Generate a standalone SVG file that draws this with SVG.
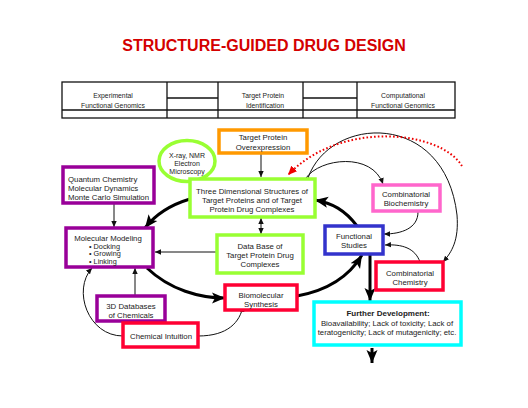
<svg xmlns="http://www.w3.org/2000/svg" width="528" height="408" viewBox="0 0 528 408">
<style>
text{font-family:"Liberation Sans",Arial,sans-serif;fill:#222}
.t{font-size:7.8px;text-anchor:middle}
.l{font-size:7.8px}
.b{font-size:7.3px}
.s{font-size:7px;text-anchor:middle}
.tb{font-size:6.8px;text-anchor:middle}
.box{fill:#fff;stroke-width:3.5}
.thin{fill:none;stroke:#111;stroke-width:1}
.thick{fill:none;stroke:#000;stroke-width:3}
.tab{fill:none;stroke:#111;stroke-width:1.3}
</style>
<defs>
<marker id="sa" markerUnits="userSpaceOnUse" markerWidth="7" markerHeight="7" viewBox="0 0 7 7" refX="6" refY="3.5" orient="auto"><path d="M0,0.8 L6,3.5 L0,6.2 Z" fill="#111"/></marker>
<marker id="sb" markerUnits="userSpaceOnUse" markerWidth="7" markerHeight="7" viewBox="0 0 7 7" refX="1" refY="3.5" orient="auto"><path d="M7,0.8 L1,3.5 L7,6.2 Z" fill="#111"/></marker>
<marker id="la" markerUnits="userSpaceOnUse" markerWidth="14" markerHeight="12" viewBox="0 0 14 12" refX="13" refY="6" orient="auto"><path d="M0,0.5 L13,6 L0,11.5 L3,6 Z" fill="#000"/></marker>
<marker id="ra" markerUnits="userSpaceOnUse" markerWidth="10" markerHeight="10" viewBox="0 0 10 10" refX="9" refY="5" orient="auto"><path d="M0,1 L9,5 L0,9 Z" fill="#e00"/></marker>
</defs>

<text x="264" y="51" style="font-size:16px;font-weight:bold;fill:#d40000;text-anchor:middle">STRUCTURE-GUIDED DRUG DESIGN</text>

<g id="table">
<rect class="tab" x="62" y="82" width="393" height="36"/>
<line class="tab" x1="62" y1="110" x2="455" y2="110"/>
<line class="tab" x1="167" y1="82" x2="167" y2="118"/>
<line class="tab" x1="218" y1="82" x2="218" y2="118"/>
<line class="tab" x1="303" y1="82" x2="303" y2="118"/>
<line class="tab" x1="357" y1="82" x2="357" y2="118"/>
<line class="tab" x1="167" y1="98" x2="218" y2="98"/>
<line class="tab" x1="303" y1="98" x2="357" y2="98"/>
<text class="tb" x="113" y="97.5">Experimental</text>
<text class="tb" x="113" y="107.5">Functional Genomics</text>
<text class="tb" x="263" y="97.5">Target Protein</text>
<text class="tb" x="265" y="107.5">Identification</text>
<text class="tb" x="403" y="97.5">Computational</text>
<text class="tb" x="403" y="107.5">Functional Genomics</text>
</g>

<g id="connectors">
<line class="thin" x1="261" y1="153" x2="261" y2="177" marker-end="url(#sa)"/>
<line class="thin" x1="261" y1="218" x2="261" y2="234" marker-start="url(#sb)" marker-end="url(#sa)"/>
<line class="thin" x1="216" y1="252" x2="155" y2="252" marker-end="url(#sa)"/>
<line class="thin" x1="114" y1="203" x2="114" y2="227" marker-end="url(#sa)"/>
<line class="thin" x1="135" y1="296" x2="135" y2="268" marker-end="url(#sa)"/>
<path class="thin" d="M123,336 C88,336 72,290 92,268" marker-end="url(#sa)"/>
<path class="thin" d="M198,336 C228,336 240,322 243,306" marker-end="url(#sa)"/>
<path class="thin" d="M306,178 C320,158 372,152 383,184" marker-end="url(#sa)"/>
<path class="thin" d="M308,178 C330,115 445,110 457,215 C459,240 452,252 443,262" marker-end="url(#sa)"/>
<path class="thin" d="M418,212 C418,228 402,234 384,234" marker-end="url(#sa)"/>
<path class="thin" d="M420,262 C415,248 402,244 385,245" marker-end="url(#sa)"/>
<path d="M462,166 C440,130 340,120 288,175" fill="none" stroke="#e00" stroke-width="2" stroke-dasharray="1.6,2.2" marker-end="url(#ra)"/>
<path class="thick" d="M190,199 C170,205 155,215 145,228" marker-end="url(#la)"/>
<path class="thick" d="M147,268 C170,290 200,298 225,298" marker-end="url(#la)"/>
<path class="thick" d="M297,296 C330,290 350,275 362,255" marker-end="url(#la)"/>
<path class="thick" d="M357,226 C345,210 332,203 315,200" marker-end="url(#la)"/>
<line class="thick" x1="370" y1="255" x2="370" y2="301" marker-end="url(#la)"/>
<line class="thick" x1="372" y1="348" x2="372" y2="363" marker-end="url(#la)"/>
</g>

<g id="overexpression">
<rect class="box" x="219" y="130" width="88" height="23" stroke="#ff9900" stroke-width="3"/>
<text class="t" x="263" y="140">Target Protein</text>
<text class="t" x="263" y="150">Overexpression</text>
</g>

<g id="xray">
<ellipse cx="187" cy="161" rx="28" ry="20.5" fill="#fff" stroke="#99ff33" stroke-width="3.5"/>
<text class="s" x="187" y="157.5">X-ray, NMR</text>
<text class="s" x="187" y="165.5">Electron</text>
<text class="s" x="187" y="173.5">Microscopy</text>
</g>

<g id="structures">
<rect class="box" x="190" y="179" width="125" height="38" stroke="#99ff33" stroke-width="4"/>
<text class="t" x="252" y="194">Three Dimensional Structures of</text>
<text class="t" x="252" y="203">Target Proteins and of Target</text>
<text class="t" x="252" y="212">Protein Drug Complexes</text>
</g>

<g id="database">
<rect class="box" x="217" y="235" width="86" height="38" stroke="#99ff33" stroke-width="4"/>
<text class="t" x="260" y="249">Data Base of</text>
<text class="t" x="260" y="258">Target Protein Drug</text>
<text class="t" x="260" y="267">Complexes</text>
</g>

<g id="quantum">
<rect class="box" x="63" y="167" width="91" height="36" stroke="#990099"/>
<text class="l" x="68" y="182">Quantum Chemistry</text>
<text class="l" x="68" y="191">Molecular Dynamics</text>
<text class="l" x="68" y="200">Monte Carlo Simulation</text>
</g>

<g id="modeling">
<rect class="box" x="66" y="228" width="87" height="39" stroke="#990099"/>
<text class="t" x="108" y="241">Molecular Modeling</text>
<text class="b" x="89" y="248.5">• Docking</text>
<text class="b" x="89" y="256">• Growing</text>
<text class="b" x="89" y="263.5">• Linking</text>
</g>

<g id="databases3d">
<rect class="box" x="97" y="296" width="68" height="25" stroke="#990099"/>
<text class="t" x="131" y="308.5">3D Databases</text>
<text class="t" x="131" y="317.5">of Chemicals</text>
</g>

<g id="intuition">
<rect class="box" x="123" y="323" width="75" height="24" stroke="#ff0033"/>
<text class="t" x="161" y="338.5">Chemical Intuition</text>
</g>

<g id="synthesis">
<rect class="box" x="225" y="285" width="72" height="25" stroke="#ff0033"/>
<text class="t" x="261" y="298">Biomolecular</text>
<text class="t" x="261" y="307">Synthesis</text>
</g>

<g id="functional">
<rect class="box" x="325" y="226" width="58" height="28" stroke="#3333cc"/>
<text class="t" x="354" y="239">Functional</text>
<text class="t" x="354" y="248">Studies</text>
</g>

<g id="biochem">
<rect class="box" x="373" y="185" width="67" height="26" stroke="#ff66cc" stroke-width="3"/>
<text class="t" x="406" y="197">Combinatorial</text>
<text class="t" x="406" y="206">Biochemistry</text>
</g>

<g id="chemistry">
<rect class="box" x="376" y="262" width="67" height="28" stroke="#ff0033"/>
<text class="t" x="410" y="276">Combinatorial</text>
<text class="t" x="410" y="285">Chemistry</text>
</g>

<g id="further">
<rect class="box" x="314" y="302" width="147" height="43" stroke="#00ffff" stroke-width="4"/>
<text class="t" x="388" y="316" style="font-weight:bold;font-size:8px">Further Development:</text>
<text class="t" x="387" y="325.5">Bioavailability; Lack of toxicity; Lack of</text>
<text class="t" x="387" y="335">teratogenicity; Lack of mutagenicity; etc.</text>
</g>
</svg>
